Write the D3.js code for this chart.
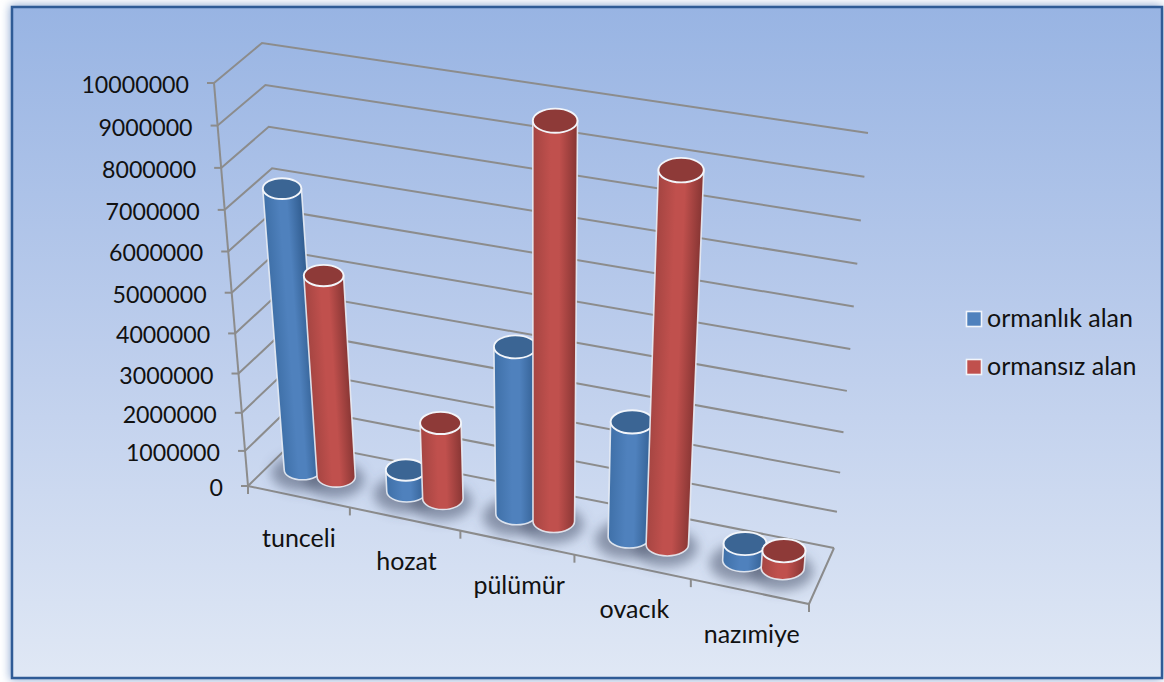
<!DOCTYPE html>
<html>
<head>
<meta charset="utf-8">
<script src="https://cdn.jsdelivr.net/npm/d3@7/dist/d3.min.js"></script>
<style>
  html, body { margin: 0; padding: 0; background: #fff; }
  svg { display: block; }
  text { font-family: Lato, "Open Sans", sans-serif; fill: #111; }
</style>
</head>
<body>
<svg id="chart" width="1164" height="682"></svg>
<script>
// Forest and non-forest area per district of Tunceli
const categories = ["tunceli", "hozat", "pülümür", "ovacık", "nazımiye"];
const seriesNames = ["ormanlık alan", "ormansız alan"];
const forestArea = [7150000, 620000, 4300000, 3000000, 480000];
const openArea = [5200000, 2050000, 9800000, 9120000, 500000];
const valueTicks = [0, 1000000, 2000000, 3000000, 4000000, 5000000, 6000000, 7000000, 8000000, 9000000, 10000000];
const seriesColors = [
  { light: "#4f81bd", edge: "#315d90", side: "#3f70a8", cap: "#3b6594" },
  { light: "#c0504d", edge: "#883634", side: "#a54542", cap: "#8e3a38" }
];

const svg = d3.select("#chart");
const defs = svg.append("defs");

// Corners of the plot box on screen, as [front, back] pairs
const floorLeft = [[248, 486], [294, 441]];
const floorRight = [[809, 604], [834, 548]];
const roofLeft = [[214, 83], [262, 43]];
const roofRight = [[843, 184], [868, 133]];

const mix = (a, b, t) => [a[0] + (b[0] - a[0]) * t, a[1] + (b[1] - a[1]) * t];

const acrossScale = d3.scalePow().exponent(1.06).domain([0, 1]).range([0, 1]);
const heightScale = d3.scalePow().exponent(1.06).domain([0, 10000000]).range([0, 1]);

// Maps position across (0-1), depth (0 front, 1 back) and value to the screen
function project(across, depth, value) {
  const a = acrossScale(Math.max(0, across));
  const h = heightScale(value);
  const floor = mix(mix(floorLeft[0], floorLeft[1], depth), mix(floorRight[0], floorRight[1], depth), a);
  const roof = mix(mix(roofLeft[0], roofLeft[1], depth), mix(roofRight[0], roofRight[1], depth), a);
  return mix(floor, roof, h);
}

const categoryScale = d3.scaleBand().domain(categories).range([0, 1]);
const seriesScale = d3.scaleBand().domain(seriesNames).range([0, categoryScale.bandwidth()]).paddingOuter(0.5).paddingInner(0);

// Panel background
const bg = defs.append("linearGradient").attr("id", "panelFill").attr("x1", 0).attr("y1", 0).attr("x2", 0).attr("y2", 1);
bg.append("stop").attr("offset", "0%").attr("stop-color", "#98b4e3");
bg.append("stop").attr("offset", "50%").attr("stop-color", "#bccdec");
bg.append("stop").attr("offset", "100%").attr("stop-color", "#e0e8f5");

defs.append("filter").attr("id", "haze").attr("x", "-5%").attr("y", "-5%").attr("width", "110%").attr("height", "110%")
  .append("feGaussianBlur").attr("stdDeviation", 5);
defs.append("filter").attr("id", "soft").attr("x", "-60%").attr("y", "-80%").attr("width", "220%").attr("height", "260%")
  .append("feGaussianBlur").attr("stdDeviation", 6);

svg.append("rect").attr("x", 10).attr("y", 5).attr("width", 1152).attr("height", 675)
  .attr("fill", "#8ea8d2").attr("filter", "url(#haze)");
svg.append("rect").attr("x", 12).attr("y", 7).attr("width", 1150).attr("height", 671)
  .attr("fill", "url(#panelFill)").attr("stroke", "#2f5b96").attr("stroke-width", 2.5);

// Grid lines on the two walls
const gridColor = "#8c8c8c";
const lineOf = d3.line();
const grid = svg.append("g").attr("fill", "none").attr("stroke", gridColor).attr("stroke-width", 2);

grid.selectAll("path.wall").data(valueTicks).join("path").attr("class", "wall")
  .attr("d", v => lineOf([project(0, 0, v), project(0, 1, v), project(1, 1, v)]));

grid.append("path").attr("d", lineOf([project(0, 0, 0), project(0, 0, 10000000)]));
grid.append("path").attr("d", lineOf([project(0, 0, 0), project(1, 0, 0), project(1, 1, 0)]));

grid.selectAll("line.valueTick").data(valueTicks).join("line").attr("class", "valueTick")
  .attr("x1", v => project(0, 0, v)[0] - 7).attr("x2", v => project(0, 0, v)[0])
  .attr("y1", v => project(0, 0, v)[1]).attr("y2", v => project(0, 0, v)[1]);

const edgeTicks = d3.range(categories.length + 1).map(i => i / categories.length);
grid.selectAll("line.catTick").data(edgeTicks).join("line").attr("class", "catTick")
  .attr("x1", u => project(u, 0, 0)[0]).attr("x2", u => project(u, 0, 0)[0])
  .attr("y1", u => project(u, 0, 0)[1]).attr("y2", u => project(u, 0, 0)[1] + 8);

// Value axis labels
svg.append("g").selectAll("text").data(valueTicks).join("text")
  .attr("x", v => project(0, 0, v)[0] - 25).attr("y", v => project(0, 0, v)[1] + 10)
  .attr("text-anchor", "end").attr("font-size", 23.2)
  .text(v => String(v));

// Category labels below the front edge
svg.append("g").selectAll("text").data(categories).join("text")
  .attr("x", c => project(categoryScale(c) + categoryScale.bandwidth() / 2, 0, 0)[0] + 2)
  .attr("y", c => project(categoryScale(c) + categoryScale.bandwidth() / 2, 0, 0)[1] + 51)
  .attr("text-anchor", "middle").attr("font-size", 25)
  .text(c => c);

// Cylinders
const bars = [];
seriesNames.forEach((s, si) => {
  const values = si === 0 ? forestArea : openArea;
  categories.forEach((c, ci) => bars.push({ c, ci, s, si, value: values[ci] }));
});
bars.sort((a, b) => a.ci - b.ci || a.si - b.si);

const radiusAcross = 0.037;
const depthMid = 0.5;
const capRatio = 0.54;
const topNarrowing = 0.04;

const shadows = svg.append("g").attr("filter", "url(#soft)");
const plotted = svg.append("g");

bars.forEach((b, i) => {
  const u = categoryScale(b.c) + seriesScale(b.s) + seriesScale.bandwidth() / 2;
  const baseL = project(u - radiusAcross, depthMid, 0);
  const baseR = project(u + radiusAcross, depthMid, 0);
  const rawTopL = project(u - radiusAcross, depthMid, b.value);
  const rawTopR = project(u + radiusAcross, depthMid, b.value);
  const baseC = mix(baseL, baseR, 0.5);
  const topC = mix(rawTopL, rawTopR, 0.5);
  const baseRx = (baseR[0] - baseL[0]) / 2;
  const topRx = (rawTopR[0] - rawTopL[0]) / 2 * (1 - topNarrowing * heightScale(b.value));
  const baseRy = baseRx * capRatio;
  const topRy = topRx * capRatio;
  const col = seriesColors[b.si];
  const topL = [topC[0] - topRx, topC[1]];
  const topR = [topC[0] + topRx, topC[1]];
  const bottomL = [baseC[0] - baseRx, baseC[1]];
  const bottomR = [baseC[0] + baseRx, baseC[1]];

  shadows.append("ellipse")
    .attr("cx", baseC[0] - 2).attr("cy", baseC[1] + 3)
    .attr("rx", baseRx + 11).attr("ry", baseRy + 8)
    .attr("fill", "#4c5770").attr("fill-opacity", 0.55);

  // Shading runs at right angles to the cylinder axis, so tilted bars stay even
  const axis = [topC[0] - baseC[0], topC[1] - baseC[1]];
  const axisLength = Math.hypot(axis[0], axis[1]) || 1;
  const normal = [-axis[1] / axisLength, axis[0] / axisLength];
  const mid = mix(baseC, topC, 0.5);
  const halfWidth = (baseRx + topRx) / 2;
  const sign = normal[0] < 0 ? -1 : 1;
  const gid = "body" + i;
  const g = defs.append("linearGradient").attr("id", gid).attr("gradientUnits", "userSpaceOnUse")
    .attr("x1", mid[0] - sign * normal[0] * halfWidth).attr("y1", mid[1] - sign * normal[1] * halfWidth)
    .attr("x2", mid[0] + sign * normal[0] * halfWidth).attr("y2", mid[1] + sign * normal[1] * halfWidth);
  [[0, col.side], [0.4, col.light], [0.6, col.light], [1, col.edge]].forEach(st =>
    g.append("stop").attr("offset", st[0]).attr("stop-color", st[1]));

  plotted.append("path")
    .attr("d", `M${topL}L${bottomL}A${baseRx},${baseRy} 0 0 0 ${bottomR}L${topR}Z`)
    .attr("fill", `url(#${gid})`).attr("stroke", "#e9edf5").attr("stroke-opacity", 0.9).attr("stroke-width", 1.6);

  plotted.append("ellipse")
    .attr("cx", topC[0]).attr("cy", topC[1]).attr("rx", topRx).attr("ry", topRy)
    .attr("fill", col.cap).attr("stroke", "#f2f5fa").attr("stroke-width", 1.9);
});

// Legend
const legend = svg.append("g");
const legendY = d3.scalePoint().domain(seriesNames).range([319, 367]);
legend.selectAll("rect").data(seriesNames).join("rect")
  .attr("x", 966.5).attr("y", s => legendY(s) - 7.5).attr("width", 15).attr("height", 15)
  .attr("fill", (s, i) => seriesColors[i].light).attr("stroke", "#f2f5fa").attr("stroke-width", 1.6);
legend.selectAll("text").data(seriesNames).join("text")
  .attr("x", 987).attr("y", s => legendY(s) + 8).attr("font-size", 25)
  .text(s => s);
</script>
</body>
</html>
